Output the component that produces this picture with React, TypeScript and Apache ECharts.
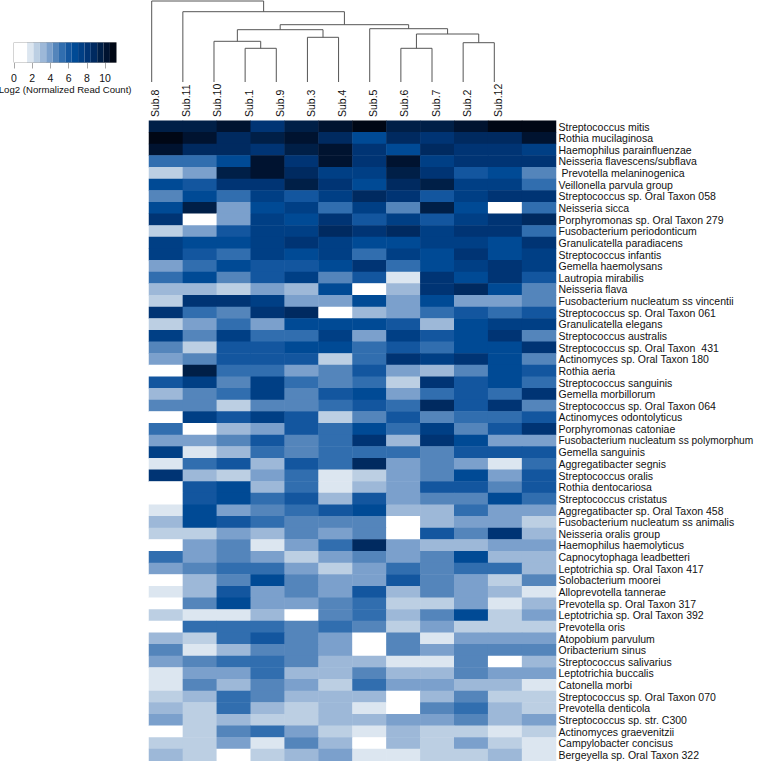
import React, { useEffect, useRef } from "react";
import * as echarts from "echarts";

const subjects = ["Sub.8","Sub.11","Sub.10","Sub.1","Sub.9","Sub.3","Sub.4","Sub.5","Sub.6","Sub.7","Sub.2","Sub.12"];

const taxa = [
  "Streptococcus mitis","Rothia mucilaginosa","Haemophilus parainfluenzae","Neisseria flavescens/subflava",
  " Prevotella melaninogenica","Veillonella parvula group","Streptococcus sp. Oral Taxon 058","Neisseria sicca",
  "Porphyromonas sp. Oral Taxon 279","Fusobacterium periodonticum","Granulicatella paradiacens","Streptococcus infantis",
  "Gemella haemolysans","Lautropia mirabilis","Neisseria flava","Fusobacterium nucleatum ss vincentii",
  "Streptococcus sp. Oral Taxon 061","Granulicatella elegans","Streptococcus australis","Streptococcus sp. Oral Taxon  431",
  "Actinomyces sp. Oral Taxon 180","Rothia aeria","Streptococcus sanguinis","Gemella morbillorum",
  "Streptococcus sp. Oral Taxon 064","Actinomyces odontolyticus","Porphyromonas catoniae","Fusobacterium nucleatum ss polymorphum",
  "Gemella sanguinis","Aggregatibacter segnis","Streptococcus oralis","Rothia dentocariosa","Streptococcus cristatus",
  "Aggregatibacter sp. Oral Taxon 458","Fusobacterium nucleatum ss animalis","Neisseria oralis group","Haemophilus haemolyticus",
  "Capnocytophaga leadbetteri","Leptotrichia sp. Oral Taxon 417","Solobacterium moorei","Alloprevotella tannerae",
  "Prevotella sp. Oral Taxon 317","Leptotrichia sp. Oral Taxon 392","Prevotella oris","Atopobium parvulum","Oribacterium sinus",
  "Streptococcus salivarius","Leptotrichia buccalis","Catonella morbi","Streptococcus sp. Oral Taxon 070","Prevotella denticola",
  "Streptococcus sp. str. C300","Actinomyces graevenitzii","Campylobacter concisus","Bergeyella sp. Oral Taxon 322",
];

const readCounts = [
  [9.5,9.5,10.2,8.1,9.5,10.2,10.9,9.5,9.5,10.2,10.9,10.9],
  [10.9,10.2,8.8,9.5,10.2,8.8,6.7,8.8,8.1,8.8,8.8,10.2],
  [10.2,8.8,8.8,8.1,9.2,10.2,8.1,6.7,8.8,8.1,8.1,7.4],
  [5.3,5.3,6.7,10.2,8.1,10.2,8.1,10.2,7.4,8.1,8.1,8.1],
  [2.5,3.9,9.5,10.2,8.8,7.4,7.4,9.5,8.1,6.0,6.7,4.6],
  [6.7,6.0,8.1,8.1,9.5,8.1,6.7,8.8,9.5,7.4,7.4,5.3],
  [4.6,6.7,5.3,7.4,6.0,7.4,8.8,8.1,6.0,7.4,8.1,8.1],
  [6.7,9.5,3.9,6.7,7.4,5.3,7.4,4.6,9.5,6.7,0,5.3],
  [8.1,0,3.9,7.4,6.7,8.1,6.0,7.4,6.0,7.4,8.1,8.8],
  [2.5,3.9,6.0,7.4,7.4,8.8,8.1,8.8,7.4,8.1,8.1,5.3],
  [7.4,6.7,6.7,7.4,8.1,7.4,6.7,6.7,7.4,7.4,6.7,8.1],
  [7.4,6.0,5.3,7.4,6.7,7.4,5.3,7.4,6.7,8.1,6.7,7.4],
  [3.9,5.3,6.7,6.0,6.0,6.7,8.1,5.3,6.7,7.4,8.1,7.4],
  [5.3,6.7,4.6,6.0,7.4,4.6,6.0,1.8,8.1,6.7,8.1,6.0],
  [3.2,3.2,2.5,3.9,3.2,6.7,0,3.2,8.1,8.8,6.7,4.6],
  [2.5,8.1,8.1,7.4,3.9,3.9,6.7,3.9,6.7,3.9,3.9,4.6],
  [8.1,5.3,4.6,8.1,8.8,0,3.2,3.9,5.3,6.0,5.3,6.0],
  [2.5,3.9,5.3,3.9,6.7,6.7,6.7,6.0,3.2,6.7,7.4,7.4],
  [7.4,4.6,7.4,5.3,5.3,7.4,3.9,7.4,6.0,6.7,8.1,4.6],
  [4.6,2.5,6.0,6.0,6.7,6.7,5.3,6.0,5.3,6.7,6.7,8.1],
  [3.9,4.6,6.0,6.0,6.0,2.5,5.3,8.1,7.4,8.1,6.7,4.6],
  [0,9.5,5.3,5.3,3.9,4.6,6.0,3.9,3.2,4.6,6.7,6.0],
  [6.0,7.4,4.6,7.4,5.3,4.6,5.3,2.5,8.1,6.0,6.7,5.3],
  [3.2,4.6,5.3,7.4,4.6,6.0,6.7,3.9,5.3,6.0,5.3,8.1],
  [4.6,4.6,2.5,4.6,4.6,5.3,6.0,5.3,8.8,6.0,8.1,4.6],
  [0,7.4,6.0,7.4,6.0,2.5,4.6,6.0,4.6,5.3,5.3,6.0],
  [5.3,0,3.2,3.9,6.0,5.3,6.7,5.3,7.4,4.6,6.0,8.1],
  [3.9,3.9,4.6,6.0,4.6,5.3,8.1,3.2,8.1,6.7,3.9,3.9],
  [7.4,1.8,3.2,5.3,4.6,5.3,5.3,5.3,4.6,6.0,6.0,6.0],
  [1.8,5.3,6.0,3.2,6.0,5.3,8.8,3.9,4.6,3.9,1.8,5.3],
  [8.1,3.2,2.5,3.9,5.3,1.8,2.5,3.9,4.6,6.7,3.9,6.0],
  [0,6.0,6.7,3.2,5.3,1.8,3.2,3.9,6.0,6.0,4.6,6.0],
  [0,6.0,6.7,5.3,6.0,3.2,6.0,3.9,4.6,4.6,6.7,5.3],
  [1.8,6.7,3.9,4.6,5.3,6.0,6.7,3.2,3.2,5.3,3.9,3.9],
  [3.2,6.7,6.0,5.3,4.6,4.6,4.6,0,3.2,3.9,3.9,2.5],
  [2.5,2.5,3.9,3.2,4.6,3.9,4.6,0,6.0,4.6,8.1,3.2],
  [0,3.9,4.6,1.8,3.9,5.3,8.8,3.9,3.2,3.2,3.9,3.9],
  [5.3,3.9,4.6,3.9,2.5,3.9,4.6,3.9,4.6,6.7,3.2,3.2],
  [3.9,4.6,5.3,5.3,3.9,2.5,3.9,5.3,4.6,5.3,5.3,3.2],
  [0,3.2,4.6,6.7,4.6,3.9,3.9,6.0,4.6,3.9,2.5,4.6],
  [1.8,3.2,6.0,3.9,4.6,3.9,6.0,3.2,4.6,3.9,3.2,1.8],
  [0,4.6,6.7,3.9,3.9,4.6,5.3,2.5,2.5,3.9,1.8,3.2],
  [2.5,1.8,1.8,3.2,0,4.6,5.3,3.2,4.6,6.7,2.5,3.9],
  [0,5.3,5.3,5.3,4.6,5.3,4.6,2.5,3.9,2.5,2.5,2.5],
  [3.2,2.5,5.3,6.0,4.6,3.9,0,4.6,1.8,3.9,3.9,3.9],
  [4.6,1.8,3.2,4.6,4.6,3.9,0,4.6,3.9,4.6,4.6,4.6],
  [3.9,4.6,5.3,5.3,4.6,3.2,3.2,1.8,1.8,4.6,0,3.2],
  [1.8,3.9,3.9,5.3,3.2,3.2,4.6,3.2,3.2,4.6,3.9,3.9],
  [1.8,4.6,3.2,4.6,3.9,2.5,5.3,3.9,3.9,3.2,3.2,1.8],
  [2.5,3.2,5.3,4.6,3.2,3.2,3.2,0,3.2,4.6,2.5,2.5],
  [3.2,2.5,5.3,3.2,2.5,3.2,1.8,0,4.6,5.3,3.2,2.5],
  [3.9,2.5,3.2,2.5,2.5,3.2,3.2,3.9,3.9,4.6,3.2,3.9],
  [0,2.5,4.6,5.3,3.9,2.5,1.8,3.2,2.5,2.5,1.8,2.5],
  [2.5,2.5,3.9,1.8,4.6,3.2,0,3.2,2.5,3.9,2.5,1.8],
  [3.2,2.5,0,2.5,3.2,3.9,1.8,1.8,2.5,2.5,3.2,1.8],
];

const binEdges = [0,1.44,2.14,2.84,3.54,4.24,4.94,5.64,6.34,7.04,7.74,8.44,9.14,9.84,10.54,11.24];
const palette = ["#ffffff","#dce6f0","#bccfe3","#9db8d8","#7ba0cc","#5485bb","#316eaf","#13569f","#004a95","#003f85","#003474","#002a60","#001f47","#001330","#000715"];
const legendTicks = [0,2,4,6,8,10];

// Dendrogram merges: x of left child, height of left child, x of right child, height of right child, merge height.
const merges = [
  [3,0,4,0,33.7],
  [2,0,3.5,33.7,40.7],
  [5,0,6,0,44.7],
  [2.75,40.7,5.5,44.7,52.3],
  [8,0,9,0,33.7],
  [10,0,11,0,39.3],
  [8.5,33.7,10.5,39.3,48],
  [7,0,9.5,48,53.3],
  [4.125,52.3,8.25,53.3,57.3],
  [1,0,6.1875,57.3,70.3],
  [0,0,3.594,70.3,81],
];

const FONT = "'Liberation Sans', Arial, sans-serif";

export default function App() {
  const ref = useRef<HTMLDivElement>(null);
  useEffect(() => {
    document.body.style.margin = "0";
    const chart = echarts.init(ref.current!, undefined, { renderer: "svg" });
    const cells: number[][] = [];
    readCounts.forEach((row, y) => row.forEach((v, x) => cells.push([x, y, v])));
    const legendBins = palette.map((_, i) => [binEdges[i], binEdges[i + 1], i]);
    const taxonItems = taxa.map((name) =>
      name.length > 36 ? { value: name, textStyle: { fontSize: 10.2 } } : name
    );
    chart.setOption({
      animation: false,
      backgroundColor: "#ffffff",
      textStyle: { fontFamily: FONT },
      grid: [
        { left: 149, top: 120.7, width: 407, height: 640, outerBoundsMode: "none" },
        { left: 151.7, top: 1, width: 342.6, height: 81, outerBoundsMode: "none" },
        { left: 155.2, top: 118, width: 342.6, height: 1, outerBoundsMode: "none" },
        { left: 14, top: 42.5, width: 102.3, height: 20, show: true, borderColor: "#a8a8a8", borderWidth: 1, backgroundColor: "transparent", outerBoundsMode: "none" },
      ],
      xAxis: [
        { gridIndex: 0, type: "category", data: subjects, show: false },
        { gridIndex: 1, type: "value", min: 0, max: 11, show: false },
        {
          gridIndex: 2, type: "value", min: 0, max: 11, interval: 1, position: "top",
          axisLine: { show: false }, axisTick: { show: false }, splitLine: { show: false },
          axisLabel: { rotate: 90, margin: 1, fontSize: 10.5, color: "#111", fontFamily: FONT, formatter: (v: number) => subjects[v] },
        },
        {
          gridIndex: 3, type: "value", min: 0, max: 11.24,
          axisLine: { show: false },
          splitLine: { show: false },
          axisTick: { show: true, length: 6, customValues: legendTicks, lineStyle: { color: "#a8a8a8", width: 1 } },
          axisLabel: { customValues: legendTicks, margin: 10, fontSize: 10.5, color: "#111", fontFamily: FONT },
          name: "Log2 (Normalized Read Count)",
          nameLocation: "middle",
          nameGap: 22,
          nameTextStyle: { fontSize: 9.6, color: "#111", fontFamily: FONT },
        },
      ],
      yAxis: [
        {
          gridIndex: 0, type: "category", data: taxonItems, inverse: true, position: "right",
          axisLine: { show: false }, axisTick: { show: false },
          axisLabel: { interval: 0, margin: 2.5, fontSize: 10.5, color: "#111", fontFamily: FONT },
        },
        { gridIndex: 1, type: "value", min: 0, max: 81, show: false },
        { gridIndex: 2, type: "value", min: 0, max: 1, show: false },
        { gridIndex: 3, type: "value", min: 0, max: 1, show: false },
      ],
      visualMap: {
        show: false,
        type: "piecewise",
        seriesIndex: 0,
        dimension: 2,
        pieces: palette.map((color, i) => ({ gte: binEdges[i], lt: binEdges[i + 1], color })),
      },
      series: [
        {
          type: "heatmap", xAxisIndex: 0, yAxisIndex: 0, data: cells,
          itemStyle: { borderWidth: 0 }, emphasis: { disabled: true },
        },
        {
          type: "custom", xAxisIndex: 1, yAxisIndex: 1, data: merges, clip: false, silent: true,
          encode: { x: 0, y: 1 },
          renderItem: (_: any, api: any) => {
            const [xa, ha, xb, hb, h] = [0, 1, 2, 3, 4].map((d) => api.value(d));
            return {
              type: "polyline",
              shape: { points: [api.coord([xa, ha]), api.coord([xa, h]), api.coord([xb, h]), api.coord([xb, hb])] },
              style: { fill: "none", stroke: "#555", lineWidth: 1 },
            };
          },
        },
        {
          type: "custom", xAxisIndex: 3, yAxisIndex: 3, data: legendBins, silent: true,
          encode: { x: [0, 1] },
          renderItem: (_: any, api: any) => {
            const a = api.coord([api.value(0), 1]);
            const b = api.coord([api.value(1), 0]);
            return {
              type: "rect",
              shape: { x: a[0], y: a[1], width: b[0] - a[0], height: b[1] - a[1] },
              style: { fill: palette[api.value(2)] },
            };
          },
        },
      ],
    });
    return () => chart.dispose();
  }, []);
  return <div ref={ref} style={{ position: "absolute", left: 0, top: 0, width: 757, height: 761 }} />;
}
